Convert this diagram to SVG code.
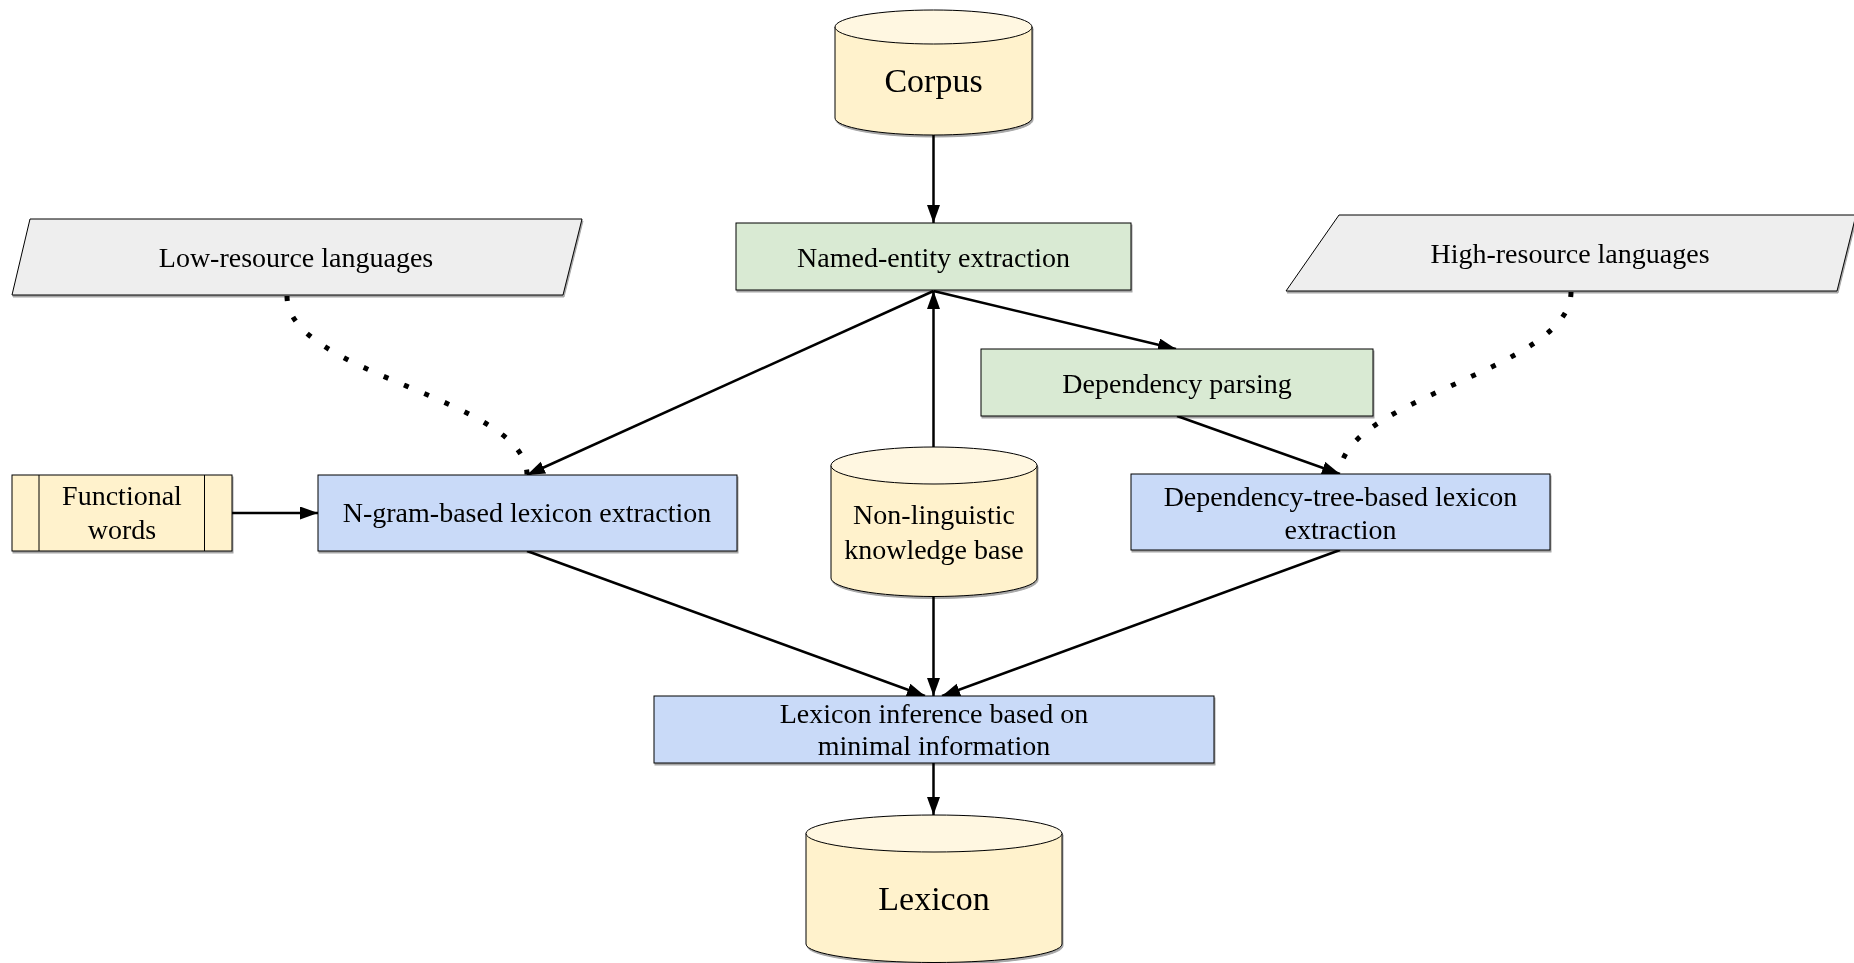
<svg xmlns="http://www.w3.org/2000/svg" width="1854" height="963" viewBox="0 0 1854 963">
<defs>
<marker id="arr" markerUnits="userSpaceOnUse" markerWidth="19" markerHeight="14" refX="18" refY="6.5" orient="auto">
<path d="M0,0 L18,6.5 L0,13 z" fill="#000"/>
</marker>
<filter id="sh" x="-5%" y="-5%" width="110%" height="115%">
<feDropShadow dx="1" dy="2" stdDeviation="0.6" flood-color="#000" flood-opacity="0.35"/>
</filter>
</defs>
<style>
text{font-family:"Liberation Serif","Times New Roman",serif;font-size:28px;fill:#000;text-anchor:middle}
.big{font-size:34px}
.green{fill:#d9ead3;stroke:#000;stroke-width:1}
.blue{fill:#c9daf8;stroke:#000;stroke-width:1}
.yel{fill:#fff2cc;stroke:#000;stroke-width:1}
.cap{fill:#fff7e1;stroke:#000;stroke-width:1}
.gray{fill:#eeeeee;stroke:#000;stroke-width:1}
.edge{fill:none;stroke:#000;stroke-width:2.5}
.dot{fill:none;stroke:#000;stroke-width:5;stroke-dasharray:5 17}
</style>
<g id="connectors">
<line class="edge" x1="933.5" y1="135" x2="933.5" y2="223" marker-end="url(#arr)"/>
<line class="edge" x1="933.5" y1="447" x2="933.5" y2="291" marker-end="url(#arr)"/>
<line class="edge" x1="933.5" y1="291" x2="527" y2="475" marker-end="url(#arr)"/>
<line class="edge" x1="933.5" y1="291" x2="1176" y2="349" marker-end="url(#arr)"/>
<line class="edge" x1="1177" y1="416" x2="1340" y2="474" marker-end="url(#arr)"/>
<line class="edge" x1="232" y1="513" x2="318" y2="513" marker-end="url(#arr)"/>
<line class="edge" x1="527" y1="551" x2="925" y2="696" marker-end="url(#arr)"/>
<line class="edge" x1="1340" y1="550" x2="942" y2="696" marker-end="url(#arr)"/>
<line class="edge" x1="933.5" y1="596" x2="933.5" y2="696" marker-end="url(#arr)"/>
<line class="edge" x1="933.5" y1="763" x2="933.5" y2="815" marker-end="url(#arr)"/>
<path class="dot" d="M287,296 C287,375 527,398 527,475"/>
<path class="dot" d="M1571,292 C1571,370 1340,398 1340,474"/>
</g>
<g id="corpus" filter="url(#sh)">
<path class="yel" d="M835,27 L835,118 A98.5,17 0 0 0 1032,118 L1032,27 Z"/>
<ellipse class="cap" cx="933.5" cy="27" rx="98.5" ry="17"/>
<text class="big" x="933.5" y="92">Corpus</text>
</g>
<g id="named-entity" filter="url(#sh)">
<rect class="green" x="736" y="223" width="395" height="67"/>
<text x="933.5" y="267">Named-entity extraction</text>
</g>
<g id="low-resource" filter="url(#sh)">
<polygon class="gray" points="30,219 582,219 563,295 12,295"/>
<text x="296" y="267">Low-resource languages</text>
</g>
<g id="high-resource" filter="url(#sh)">
<polygon class="gray" points="1339,215 1856,215 1837,291 1286,291"/>
<text x="1570" y="263">High-resource languages</text>
</g>
<g id="dependency-parsing" filter="url(#sh)">
<rect class="green" x="981" y="349" width="392" height="67"/>
<text x="1177" y="393">Dependency parsing</text>
</g>
<g id="functional-words" filter="url(#sh)">
<rect class="yel" x="12" y="475" width="220" height="76"/>
<line x1="39" y1="475" x2="39" y2="551" stroke="#000" stroke-width="1"/>
<line x1="204.5" y1="475" x2="204.5" y2="551" stroke="#000" stroke-width="1"/>
<text x="122" y="505">Functional</text>
<text x="122" y="539">words</text>
</g>
<g id="ngram" filter="url(#sh)">
<rect class="blue" x="318" y="475" width="419" height="76"/>
<text x="527" y="522">N-gram-based lexicon extraction</text>
</g>
<g id="non-linguistic" filter="url(#sh)">
<path class="yel" d="M831,465.5 L831,578 A103,18.5 0 0 0 1037,578 L1037,465.5 Z"/>
<ellipse class="cap" cx="934" cy="465.5" rx="103" ry="18.5"/>
<text x="934" y="524">Non-linguistic</text>
<text x="934" y="559">knowledge base</text>
</g>
<g id="dep-tree" filter="url(#sh)">
<rect class="blue" x="1131" y="474" width="419" height="76"/>
<text x="1340.5" y="506">Dependency-tree-based lexicon</text>
<text x="1340.5" y="539">extraction</text>
</g>
<g id="lexicon-inference" filter="url(#sh)">
<rect class="blue" x="654" y="696" width="560" height="67"/>
<text x="934" y="723">Lexicon inference based on</text>
<text x="934" y="755">minimal information</text>
</g>
<g id="lexicon" filter="url(#sh)">
<path class="yel" d="M806,833.5 L806,944 A128,18.5 0 0 0 1062,944 L1062,833.5 Z"/>
<ellipse class="cap" cx="934" cy="833.5" rx="128" ry="18.5"/>
<text class="big" x="934" y="910">Lexicon</text>
</g>
</svg>
